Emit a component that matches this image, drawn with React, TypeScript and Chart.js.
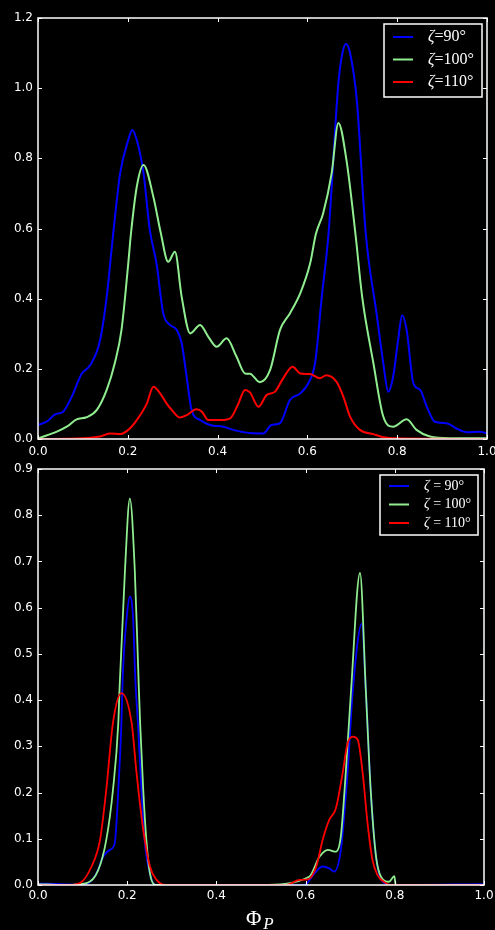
import React, { useEffect, useRef } from "react";
import { Chart, registerables } from "chart.js";

Chart.register(...registerables);

// ---- data (phase Φ_P, normalised intensity) ----
const seriesLabels = ["90", "100", "110"];
const seriesColors = ["#0000ff", "#90ee90", "#ff0000"];

const topBlue: number[][] = [
  [0, 0.04], [0.02, 0.05], [0.038, 0.07], [0.056, 0.078], [0.075, 0.12], [0.097, 0.185],
  [0.116, 0.21], [0.138, 0.28], [0.153, 0.405], [0.166, 0.567], [0.183, 0.758], [0.201, 0.852],
  [0.21, 0.881], [0.22, 0.852], [0.235, 0.758], [0.249, 0.596], [0.264, 0.5], [0.279, 0.358],
  [0.294, 0.325], [0.309, 0.311], [0.32, 0.273], [0.331, 0.178], [0.342, 0.083], [0.361, 0.054],
  [0.383, 0.04], [0.413, 0.035], [0.435, 0.026], [0.472, 0.017], [0.502, 0.016], [0.52, 0.04],
  [0.539, 0.045], [0.561, 0.111], [0.584, 0.13], [0.602, 0.159], [0.617, 0.216], [0.632, 0.405],
  [0.647, 0.585], [0.669, 1.014], [0.678, 1.1], [0.686, 1.126], [0.695, 1.1], [0.71, 0.966],
  [0.73, 0.585], [0.754, 0.358], [0.769, 0.216], [0.78, 0.135], [0.791, 0.178], [0.802, 0.282],
  [0.811, 0.353], [0.821, 0.311], [0.836, 0.159], [0.851, 0.14], [0.866, 0.092], [0.884, 0.049],
  [0.91, 0.045], [0.932, 0.03], [0.955, 0.019], [0.984, 0.021], [1.0, 0.016],
];
const topGreen: number[][] = [
  [0, 0.002], [0.042, 0.021], [0.064, 0.035], [0.086, 0.056], [0.108, 0.062], [0.131, 0.083],
  [0.153, 0.14], [0.171, 0.216], [0.186, 0.311], [0.201, 0.5], [0.207, 0.585], [0.22, 0.719],
  [0.235, 0.781], [0.257, 0.69], [0.273, 0.59], [0.29, 0.505], [0.305, 0.534], [0.32, 0.405],
  [0.339, 0.301], [0.361, 0.325], [0.379, 0.292], [0.398, 0.263], [0.42, 0.287], [0.442, 0.235],
  [0.461, 0.187], [0.472, 0.186], [0.494, 0.162], [0.517, 0.197], [0.539, 0.311], [0.561, 0.358],
  [0.584, 0.415], [0.606, 0.5], [0.619, 0.585], [0.635, 0.643], [0.654, 0.757], [0.669, 0.901],
  [0.687, 0.795], [0.707, 0.585], [0.722, 0.405], [0.747, 0.216], [0.769, 0.064], [0.791, 0.035],
  [0.821, 0.056], [0.843, 0.026], [0.873, 0.007], [0.918, 0.002], [1.0, 0.002],
];
const topRed: number[][] = [
  [0, 0], [0.1, 0.002], [0.138, 0.007], [0.16, 0.016], [0.183, 0.014], [0.201, 0.026],
  [0.22, 0.054], [0.242, 0.1], [0.257, 0.149], [0.272, 0.13], [0.287, 0.1], [0.301, 0.078],
  [0.316, 0.061], [0.331, 0.068], [0.353, 0.085], [0.365, 0.078], [0.379, 0.054], [0.405, 0.054],
  [0.428, 0.059], [0.446, 0.1], [0.461, 0.14], [0.472, 0.133], [0.491, 0.092], [0.509, 0.125],
  [0.528, 0.135], [0.546, 0.173], [0.567, 0.206], [0.584, 0.187], [0.606, 0.185], [0.628, 0.173],
  [0.642, 0.182], [0.665, 0.163], [0.68, 0.121], [0.695, 0.064], [0.717, 0.026], [0.747, 0.014],
  [0.769, 0.005], [0.8, 0.002], [1.0, 0],
];

const botBlue: number[][] = [
  [0, 0.003], [0.05, 0.002], [0.09, 0], [0.113, 0.004], [0.131, 0.025], [0.146, 0.061],
  [0.161, 0.076], [0.172, 0.09], [0.18, 0.205], [0.187, 0.35], [0.19, 0.45], [0.199, 0.58],
  [0.206, 0.624], [0.213, 0.58], [0.218, 0.45], [0.224, 0.35], [0.232, 0.205], [0.239, 0.097],
  [0.251, 0.025], [0.263, 0], [0.597, 0], [0.62, 0.025], [0.638, 0.04], [0.653, 0.036],
  [0.664, 0.029], [0.679, 0.076], [0.694, 0.242], [0.706, 0.422], [0.726, 0.565], [0.735, 0.422],
  [0.746, 0.205], [0.758, 0.061], [0.773, 0.007], [0.79, 0], [1.0, 0.002],
];
const botGreen: number[][] = [
  [0, 0.002], [0.06, 0], [0.109, 0.004], [0.135, 0.032], [0.153, 0.097], [0.168, 0.205],
  [0.18, 0.35], [0.183, 0.429], [0.195, 0.681], [0.206, 0.836], [0.217, 0.681], [0.226, 0.429],
  [0.229, 0.35], [0.236, 0.205], [0.243, 0.097], [0.251, 0.025], [0.263, 0], [0.5, 0],
  [0.608, 0.018], [0.631, 0.061], [0.65, 0.076], [0.668, 0.072], [0.679, 0.105], [0.69, 0.242],
  [0.702, 0.422], [0.722, 0.675], [0.735, 0.422], [0.746, 0.205], [0.758, 0.061], [0.769, 0.018],
  [0.787, 0.007], [0.799, 0.019], [0.802, 0], [1.0, 0],
];
const botRed: number[][] = [
  [0, 0], [0.07, 0], [0.094, 0.004], [0.12, 0.04], [0.139, 0.097], [0.153, 0.205],
  [0.168, 0.35], [0.187, 0.415], [0.21, 0.35], [0.221, 0.242], [0.236, 0.119], [0.251, 0.04],
  [0.266, 0.011], [0.285, 0], [0.556, 0], [0.586, 0.011], [0.605, 0.012], [0.624, 0.04],
  [0.638, 0.097], [0.653, 0.141], [0.668, 0.166], [0.683, 0.242], [0.694, 0.306], [0.706, 0.321],
  [0.717, 0.314], [0.728, 0.242], [0.739, 0.133], [0.75, 0.054], [0.761, 0.022], [0.78, 0.004],
  [0.79, 0], [1.0, 0],
];

const xTicks = [0, 0.2, 0.4, 0.6, 0.8, 1.0];
const topYMax = 1.2;
const topYStep = 0.2;
const botYMax = 0.9;
const botYStep = 0.1;

// ---- plugin: matplotlib-like frame, inward ticks, legend, x title ----
const framePlugin = {
  id: "mplFrame",
  afterDraw(chart: any, _args: any, opts: any) {
    const { ctx, chartArea: a, scales } = chart;
    const xs = scales.x;
    const ys = scales.y;
    ctx.save();
    ctx.strokeStyle = "#ffffff";
    ctx.lineWidth = 1;
    const tl = 4;
    const seg = (x1: number, y1: number, x2: number, y2: number) => {
      ctx.beginPath();
      ctx.moveTo(x1, y1);
      ctx.lineTo(x2, y2);
      ctx.stroke();
    };
    xs.ticks.forEach((t: any) => {
      const px = Math.round(xs.getPixelForValue(t.value)) + 0.5;
      seg(px, a.bottom, px, a.bottom - tl);
      seg(px, a.top, px, a.top + tl);
    });
    ys.ticks.forEach((t: any) => {
      const py = Math.round(ys.getPixelForValue(t.value)) + 0.5;
      seg(a.left, py, a.left + tl, py);
      seg(a.right, py, a.right - tl, py);
    });
    ctx.lineWidth = 1.5;
    ctx.strokeRect(a.left, a.top, a.right - a.left, a.bottom - a.top);

    // legend
    const L = opts.legend;
    if (L) {
      ctx.fillStyle = "#000";
      ctx.fillRect(L.x, L.y, L.w, L.h);
      ctx.lineWidth = 1.5;
      ctx.strokeStyle = "#fff";
      ctx.strokeRect(L.x, L.y, L.w, L.h);
      chart.data.datasets.forEach((ds: any, i: number) => {
        const ry = L.y + L.first + i * L.row;
        ctx.strokeStyle = ds.borderColor;
        ctx.lineWidth = 2;
        seg(L.lx, ry, L.lx + 20, ry);
        ctx.fillStyle = "#fff";
        ctx.textBaseline = "middle";
        ctx.textAlign = "left";
        let tx = L.tx;
        ctx.font = `italic ${L.fs}px "Liberation Serif", "DejaVu Serif", serif`;
        ctx.fillText("ζ", tx, ry);
        tx += ctx.measureText("ζ").width;
        ctx.font = `${L.fs}px "Liberation Serif", "DejaVu Serif", serif`;
        const eq = L.spaced ? " = " : "=";
        ctx.fillText(eq, tx, ry);
        tx += ctx.measureText(eq).width;
        ctx.fillText(ds.label + "°", tx, ry);
      });
    }
    const T = opts.title;
    if (T) {
      ctx.fillStyle = "#fff";
      ctx.textBaseline = "alphabetic";
      ctx.textAlign = "left";
      ctx.font = `21px "Liberation Serif", "DejaVu Serif", serif`;
      ctx.fillText("Φ", T.x, T.y);
      const w = ctx.measureText("Φ").width;
      ctx.font = `italic 17px "Liberation Serif", "DejaVu Serif", serif`;
      ctx.fillText("P", T.x + w + 2, T.y + 4);
    }
    ctx.restore();
  },
};

function makeConfig(
  series: number[][][],
  yMax: number,
  yStep: number,
  lw: number,
  layout: { top: number; right: number; xH: number; xPad: number },
  pluginOpts: any
): any {
  const tickFont = { family: '"DejaVu Sans", sans-serif', size: 12 };
  return {
    type: "line",
    data: {
      datasets: series.map((pts, i) => ({
        label: seriesLabels[i],
        data: pts.map(([x, y]) => ({ x, y })),
        borderColor: seriesColors[i],
        borderWidth: lw,
        pointRadius: 0,
        fill: false,
        cubicInterpolationMode: "monotone",
        order: 3 - i,
      })),
    },
    options: {
      animation: false,
      responsive: false,
      events: [],
      layout: { padding: { left: 0, right: layout.right, top: layout.top, bottom: 0 } },
      plugins: {
        legend: { display: false },
        tooltip: { enabled: false },
        mplFrame: pluginOpts,
      },
      scales: {
        x: {
          type: "linear",
          min: 0,
          max: 1,
          afterBuildTicks: (s: any) => {
            s.ticks = xTicks.map((v) => ({ value: v }));
          },
          ticks: {
            color: "#fff",
            font: tickFont,
            padding: layout.xPad,
            maxRotation: 0,
            autoSkip: false,
            callback: (v: any) => Number(v).toFixed(1),
          },
          grid: { display: false, drawTicks: false },
          border: { display: false },
          afterFit: (s: any) => {
            s.height = layout.xH;
            s.paddingLeft = 0;
            s.paddingRight = 0;
          },
        },
        y: {
          type: "linear",
          min: 0,
          max: yMax,
          ticks: {
            stepSize: yStep,
            color: "#fff",
            font: tickFont,
            padding: 5,
            autoSkip: false,
            callback: (v: any) => Number(v).toFixed(1),
          },
          grid: { display: false, drawTicks: false },
          border: { display: false },
          afterFit: (s: any) => {
            s.width = 38;
            s.paddingTop = 0;
            s.paddingBottom = 0;
          },
        },
      },
    },
    plugins: [framePlugin],
  };
}

export default function App() {
  const topRef = useRef<HTMLCanvasElement>(null);
  const botRef = useRef<HTMLCanvasElement>(null);

  useEffect(() => {
    const c1 = new Chart(
      topRef.current as HTMLCanvasElement,
      makeConfig(
        [topBlue, topGreen, topRed],
        topYMax,
        topYStep,
        2,
        { top: 18, right: 8, xH: 26, xPad: 6 },
        {
          legend: { x: 384, y: 24, w: 98, h: 73, first: 13, row: 22.5, lx: 393, tx: 428, fs: 16, spaced: false },
        }
      )
    );
    const c2 = new Chart(
      botRef.current as HTMLCanvasElement,
      makeConfig(
        [botBlue, botGreen, botRed],
        botYMax,
        botYStep,
        1.8,
        { top: 9, right: 11, xH: 45, xPad: 4 },
        {
          legend: { x: 380, y: 15, w: 98, h: 60, first: 11, row: 18.5, lx: 389, tx: 424, fs: 14, spaced: true },
          title: { x: 246, y: 465 },
        }
      )
    );
    return () => {
      c1.destroy();
      c2.destroy();
    };
  }, []);

  return (
    <div style={{ position: "fixed", left: 0, top: 0, width: 495, height: 930, background: "#000", overflow: "hidden" }}>
      <canvas ref={topRef} width={495} height={465} style={{ position: "absolute", left: 0, top: 0, width: 495, height: 465 }} />
      <canvas ref={botRef} width={495} height={470} style={{ position: "absolute", left: 0, top: 460, width: 495, height: 470 }} />
    </div>
  );
}
